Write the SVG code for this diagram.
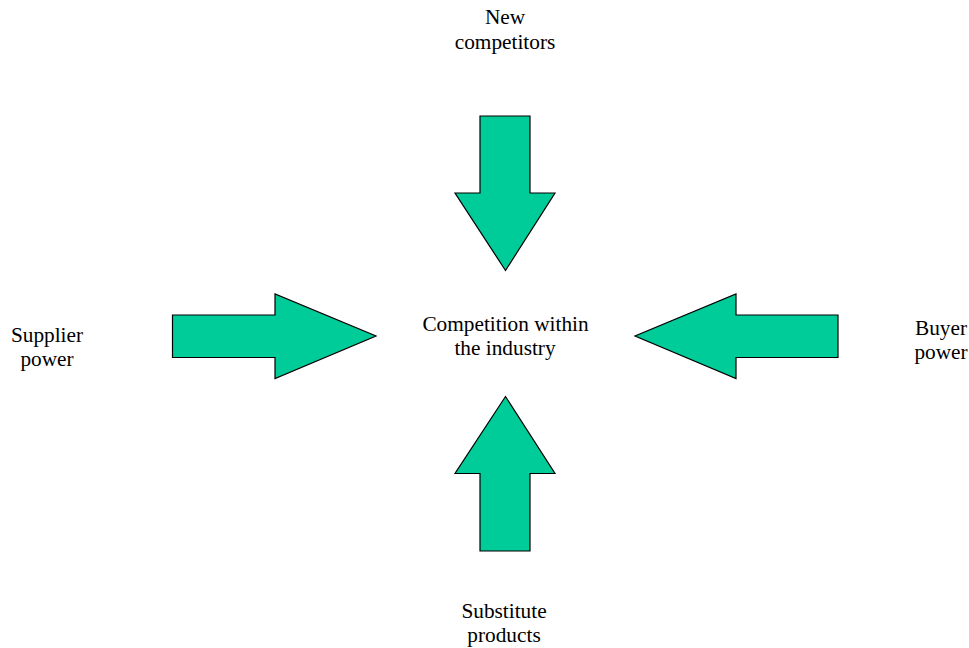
<svg xmlns="http://www.w3.org/2000/svg" width="969" height="648" viewBox="0 0 969 648">
<style>
.arrow{fill:#00CC99;stroke:#000;stroke-width:1.2;stroke-linejoin:miter}
.lbl{font-family:"Liberation Serif","Times New Roman",serif;font-size:21.3px;fill:#000;text-anchor:middle}
</style>
<rect width="969" height="648" fill="#fff"/>
<g id="connectors">
<polygon id="arrow-top" class="arrow" points="480,116 530,116 530,193 555,193 505.5,270.5 455,193 480,193"/>
<polygon id="arrow-left" class="arrow" points="172.5,315 275,315 275,294 376,336 275,378.5 275,357.5 172.5,357.5"/>
<polygon id="arrow-right" class="arrow" points="838,315 736,315 736,294 635,336 736,378.5 736,357.5 838,357.5"/>
<polygon id="arrow-bottom" class="arrow" points="480,551 530,551 530,473.5 555,473.5 505.5,396.5 455,473.5 480,473.5"/>
</g>
<g id="node-new">
<text class="lbl" x="505" y="24">New</text>
<text class="lbl" x="505" y="49">competitors</text>
</g>
<g id="node-center">
<text class="lbl" x="505.5" y="331">Competition within</text>
<text class="lbl" x="505" y="355">the industry</text>
</g>
<g id="node-supplier">
<text class="lbl" x="47" y="342">Supplier</text>
<text class="lbl" x="47" y="366">power</text>
</g>
<g id="node-buyer">
<text class="lbl" x="941" y="335">Buyer</text>
<text class="lbl" x="941" y="359">power</text>
</g>
<g id="node-substitute">
<text class="lbl" x="504" y="618">Substitute</text>
<text class="lbl" x="504" y="642">products</text>
</g>
</svg>
